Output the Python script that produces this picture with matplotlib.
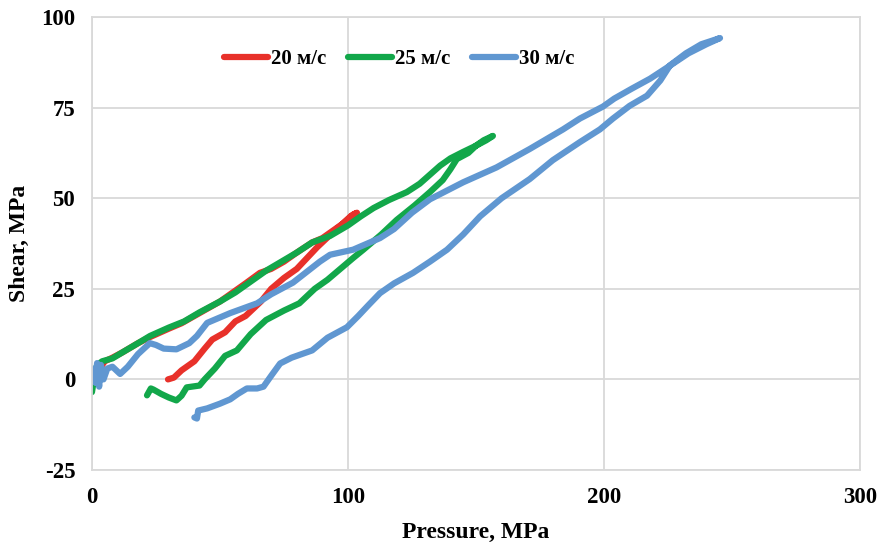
import matplotlib
matplotlib.use("Agg")
from matplotlib import pyplot as plt

plt.rcParams["font.family"] = ["Liberation Serif", "DejaVu Serif"]
plt.rcParams["font.weight"] = "bold"
plt.rcParams["axes.unicode_minus"] = False

# 20 m/s: loading branch from (30, 0) up, then back down along the upper branch
red_x = [29.7, 32, 35, 40, 44, 47, 52, 56, 60, 63, 66, 70, 75, 80, 84, 88, 91, 94, 98, 101, 103.5,
         102, 98, 94, 90, 86, 80, 75, 70, 65.6, 60, 55, 50, 45, 40, 35, 30, 22.7, 18, 12, 8, 5, 3, 1.5, 0.5]
red_y = [0, 0.5, 2.5, 5, 8.5, 11, 13, 16, 17.5, 19.5, 21.5, 25, 28, 30.5, 33.5, 36.5, 38.5, 40.5, 43, 45, 46,
         45.5, 43, 41, 39, 37.8, 35, 32.5, 30.5, 29.4, 26.5, 24, 21.5, 19.5, 17.5, 15.5, 14, 11.7, 10, 7.5, 6, 5, 3, 1.5, 0.5]

# 25 m/s
green_x = [0, 1, 2, 4, 8, 12, 18, 22.7, 30, 36, 42, 50, 56, 62, 68, 74, 80, 86, 93, 100, 105, 110, 116,
           123, 128, 132, 136, 140, 145, 150, 153, 156.6,
           154, 150, 147, 142.5, 140, 137, 132, 126, 119, 113, 106, 102, 97, 92, 87, 81, 75, 68, 62,
           56.6, 52, 48, 44, 42, 39, 37, 35, 33, 30, 27, 24, 23, 21.5]
green_y = [-3.5, 1, 4, 5, 5.8, 7.5, 10, 12, 14.3, 16, 18.5, 21.5, 24, 27, 30, 32.5, 35, 37.8, 39.6, 42.5, 45, 47.3, 49.5,
           51.7, 54, 56.5, 59, 61, 62.8, 64.5, 66, 67.2,
           66, 64.5, 62.5, 60.8, 58, 55, 51.7, 48, 44, 40, 35.8, 33.5, 30.5, 27.5, 25, 21, 19, 16.4, 12.5,
           8, 6.5, 3, 0, -1.7, -2, -2.2, -4.5, -5.8, -5, -4, -2.8, -2.5, -4.4]

# 30 m/s
blue_x = [40, 41, 41.5, 45, 50, 54, 57, 60.5, 64.5, 67, 70, 73.5, 78, 86, 92, 99.6, 104, 108, 112.5, 118,
          125.4, 132, 138.7, 145, 151.6, 160, 171, 180, 190.6, 198.4, 203.5, 210, 216.8, 222, 225.8, 232, 238, 245.3,
          240, 233, 226, 218, 211, 204, 199.6, 190.6, 184, 171, 158, 145, 132, 125, 118, 112.5, 102, 93, 89,
          78.5, 70, 64.5, 54, 45, 41, 38, 33, 28, 25, 22.6, 18, 14, 11, 8, 6, 4.5, 3.5, 2.8, 2, 1.5, 1, 0.5, 0]
blue_y = [-10.5, -10.8, -8.6, -8, -6.7, -5.5, -4, -2.5, -2.5, -2, 1, 4.4, 6, 8, 11.5, 14.4, 17.5, 20.5, 23.8, 26.5,
          29.4, 32.5, 35.8, 40, 45, 50, 55.3, 60.5, 65.5, 69, 72, 75.5, 78.3, 82.5, 86.7, 90, 92.5, 94.2,
          92.5, 90, 86.7, 83, 80.3, 77.5, 75.3, 72, 69, 63.6, 58.5, 54.4, 49.7, 46, 41.5, 39, 35.8, 34.4, 32.5,
          26.7, 23.5, 21, 18.3, 15.6, 12, 10, 8.3, 8.5, 9.5, 10, 7, 3.5, 1.5, 3.5, 3, 0, 4, -2, 4.5, -1, 3, -0.5, 2]

grid_c = "#d9d9d9"

fig = plt.figure(figsize=(8.86, 5.47), dpi=100)
ax = fig.add_axes([0.1038, 0.1408, 0.8669, 0.828])

style = dict(lw=4.5, solid_capstyle="round", solid_joinstyle="round")
ax.plot(red_x, red_y, color="#e8312a", label="20 м/с", **style)
ax.plot(green_x, green_y, color="#12a74a", label="25 м/с", **style)
ax.plot(blue_x, blue_y, color="#6097d1", label="30 м/с", **style)

ax.set_xlim(0, 300)
ax.set_ylim(-25, 100)
ax.set_xticks([0, 100, 200, 300])
ax.set_yticks([-25, 0, 25, 50, 75, 100])
ax.grid(True, color=grid_c, lw=1.3)
ax.set_axisbelow(True)
for s in ax.spines.values():
    s.set_color(grid_c)
    s.set_linewidth(1.3)
ax.tick_params(length=0, labelsize=16.5, pad=12)
for lab in ax.get_xticklabels() + ax.get_yticklabels():
    lab.set_fontweight("bold")

ax.set_xlabel("Pressure, MPa", fontsize=17, fontweight="bold", labelpad=10)
ax.set_ylabel("Shear, MPa", fontsize=17, fontweight="bold", labelpad=8)

ax.legend(loc="center", bbox_to_anchor=(0.40, 0.907), ncol=3, frameon=False,
          prop={"size": 15, "weight": "bold"}, handlelength=2.15, handletextpad=0.15, columnspacing=1.0)

fig.savefig("out.png", dpi=100)
